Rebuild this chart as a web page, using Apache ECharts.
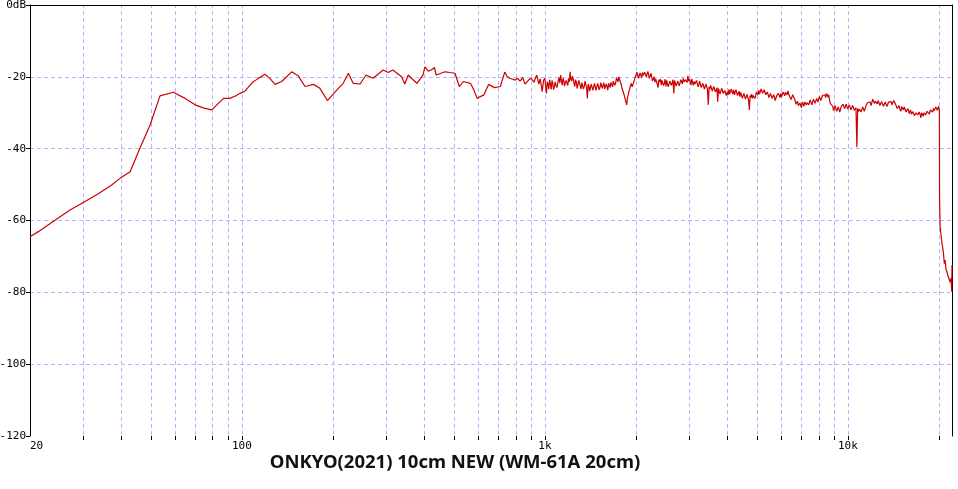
<!DOCTYPE html>
<html>
<head>
<meta charset="utf-8">
<script src="https://cdn.jsdelivr.net/npm/echarts@6/dist/echarts.min.js"></script>
<style>
  html, body { margin: 0; padding: 0; background: #fff; }
  #chart { width: 958px; height: 489px; }
</style>
</head>
<body>
<div id="chart"></div>
<script>
// ---- Data (frequency Hz, level dB) ----
var titleText = 'ONKYO(2021) 10cm NEW (WM-61A 20cm)';
var xMin = 20, xMax = 22050;
var yMin = -120, yMax = 0, yStep = 20;
var xLabelValues = [20, 100, 1000, 10000];
var xLabelTexts = ['20', '100', '1k', '10k'];
var gridFreqs = [30, 40, 50, 60, 70, 80, 90, 100, 200, 300, 400, 500, 600, 700, 800, 900,
  1000, 2000, 3000, 4000, 5000, 6000, 7000, 8000, 9000, 10000, 20000];

var lowBand = [
  [20, -64.5], [21.3, -63.1], [25, -59.1], [27.1, -57.1], [30, -55.0], [33.5, -52.6], [37.2, -50.1],
  [40, -48.0], [42.8, -46.4], [46.1, -39.9], [49.8, -33.4], [53.7, -25.3], [59.4, -24.3], [65, -26.0],
  [70.1, -27.8], [75, -28.7], [79.6, -29.2], [87, -26.0], [91.4, -26.0], [96, -25.2], [98.6, -24.6],
  [102.4, -24.0], [108.6, -21.5], [113, -20.5], [119.2, -19.3], [124, -20.5], [128.6, -22.1],
  [135.4, -21.3], [146, -18.6], [153.8, -19.8], [161.6, -22.7], [172.4, -22.1], [181, -23.2],
  [191.6, -26.6], [205.6, -23.7], [216, -21.8], [224.6, -19.0], [233, -21.8], [245.6, -22.0],
  [257, -19.5], [271, -20.4], [292.6, -18.1], [304, -18.8], [315, -18.1], [336.8, -20.0], [345, -22.0],
  [354, -19.5], [378, -21.8], [396, -19.5], [402, -17.2], [412, -18.4], [422, -18.1], [432, -17.4],
  [438, -19.5], [468, -18.6], [486, -18.8], [505, -19.0], [522, -22.7], [538, -21.3], [568, -21.8],
  [582, -23.5], [598, -26.0], [612, -25.5], [628, -25.1], [652, -22.1], [682, -23.0], [713, -22.7],
  [737, -18.7], [750, -19.8], [764, -20.4], [780, -20.6], [798, -20.9], [812, -20.4], [828, -21.2],
  [845, -20.2], [860, -22.0], [884, -20.9], [900, -20.4], [920, -21.5], [940, -19.5], [955, -22.0],
  [965, -20.5], [980, -24.1], [990, -21.0]
];

var band1k = [
  [1000, -20.4], [1006, -22.8], [1012, -24.6], [1018, -21.4], [1024, -22.0], [1030, -23.4], [1036, -20.8],
  [1043, -22.0], [1049, -23.5], [1056, -21.0], [1062, -21.8], [1068, -23.6], [1074, -22.8], [1081, -21.4],
  [1087, -20.9], [1094, -23.0], [1100, -22.4], [1107, -21.0], [1114, -20.2], [1120, -21.8], [1127, -19.5],
  [1134, -21.0], [1141, -22.3], [1148, -20.4], [1154, -21.0], [1161, -22.6], [1168, -23.0], [1175, -21.0],
  [1182, -21.3], [1190, -22.4], [1197, -20.4], [1204, -21.4], [1211, -18.6], [1218, -20.6], [1226, -21.2],
  [1233, -19.8], [1240, -20.5], [1248, -21.8], [1255, -22.7], [1262, -20.8], [1270, -21.4], [1278, -23.2],
  [1286, -22.8], [1294, -21.0], [1301, -21.6], [1309, -22.6], [1317, -23.4], [1325, -21.6], [1333, -22.0],
  [1341, -23.4], [1349, -22.6], [1357, -21.2], [1365, -21.5], [1373, -23.0], [1381, -26.0], [1390, -22.0],
  [1398, -22.6], [1406, -24.0], [1415, -23.7], [1423, -22.0], [1432, -22.1], [1440, -23.8], [1449, -23.3],
  [1458, -21.8], [1466, -21.9], [1475, -23.8], [1484, -23.6], [1493, -21.8], [1502, -22.2], [1511, -23.6],
  [1520, -23.0], [1529, -21.6], [1538, -21.8], [1547, -23.2], [1556, -22.3], [1565, -21.6], [1575, -23.4],
  [1584, -23.8], [1594, -22.0], [1603, -22.6], [1613, -23.7], [1623, -21.8], [1633, -22.2], [1642, -23.0],
  [1652, -21.5], [1662, -22.0], [1672, -22.8], [1682, -21.2], [1692, -21.0], [1702, -22.4], [1713, -21.6],
  [1723, -20.2], [1733, -20.4], [1743, -21.4], [1754, -20.0], [1764, -20.8], [1775, -21.2], [1785, -22.0],
  [1796, -23.2], [1807, -23.8], [1818, -24.5], [1829, -25.2], [1840, -26.2], [1851, -26.6], [1862, -27.8],
  [1873, -25.8], [1884, -25.0], [1896, -24.0], [1907, -23.6], [1918, -22.4], [1930, -21.8], [1941, -22.8],
  [1953, -22.6], [1965, -21.4], [1976, -20.8], [1988, -20.0]
];

var band2k = [
  [2000, -19.8], [2012, -18.7], [2024, -19.0], [2036, -20.4], [2048, -20.3], [2060, -18.9], [2073, -19.2],
  [2085, -20.2], [2098, -18.8], [2110, -19.6], [2123, -19.9], [2135, -18.7], [2148, -18.6], [2161, -20.0],
  [2174, -19.6], [2187, -18.5], [2200, -18.9], [2213, -20.4], [2227, -20.2], [2240, -19.0], [2253, -19.3],
  [2266, -21.2], [2280, -20.8], [2294, -20.0], [2308, -21.5], [2321, -20.6], [2335, -20.2], [2349, -22.0],
  [2363, -23.0], [2377, -20.8], [2392, -21.4], [2406, -20.6], [2420, -22.3], [2434, -21.0], [2449, -20.9],
  [2464, -22.4], [2479, -21.8], [2493, -20.6], [2508, -22.7], [2523, -21.0], [2538, -21.3], [2553, -22.8],
  [2569, -22.5], [2584, -21.2], [2600, -20.9], [2615, -22.4], [2631, -21.6], [2647, -20.8], [2663, -24.6],
  [2678, -21.0], [2694, -21.3], [2710, -22.6], [2727, -22.2], [2743, -21.2], [2760, -21.0], [2776, -22.5],
  [2793, -22.0], [2810, -20.8], [2826, -21.2], [2843, -22.0], [2860, -20.4], [2877, -21.4], [2894, -21.9],
  [2911, -20.8], [2929, -20.5], [2946, -21.6], [2964, -19.7], [2982, -21.2], [3000, -20.6], [3018, -21.3],
  [3036, -22.3], [3054, -20.6], [3072, -21.0], [3090, -22.4], [3109, -21.3], [3127, -22.0], [3146, -22.4],
  [3165, -21.0], [3184, -21.3], [3203, -22.8], [3222, -22.1], [3241, -21.2], [3261, -21.5], [3280, -23.0],
  [3300, -22.7], [3320, -21.8], [3340, -22.0], [3360, -23.4], [3380, -23.0], [3400, -22.0], [3420, -22.2],
  [3440, -23.5], [3461, -27.8], [3482, -22.8], [3503, -23.4], [3524, -22.4], [3545, -22.6], [3566, -24.0],
  [3587, -23.8], [3608, -22.7], [3630, -23.0], [3652, -24.2], [3674, -24.0], [3696, -23.0], [3718, -26.9],
  [3740, -23.2], [3763, -23.6], [3785, -24.8], [3808, -24.4], [3830, -23.2], [3853, -23.8], [3876, -24.6],
  [3899, -25.0], [3922, -23.8], [3946, -24.2], [3970, -25.2], [3993, -24.8]
];

var band4k = [
  [4000, -24.2], [4024, -25.0], [4048, -23.5], [4072, -24.8], [4096, -24.5], [4120, -23.4], [4144, -23.7],
  [4170, -24.8], [4196, -23.6], [4222, -25.0], [4248, -24.6], [4272, -23.6], [4296, -23.9], [4322, -25.2],
  [4348, -25.0], [4374, -24.0], [4400, -25.5], [4428, -24.3], [4456, -24.6], [4482, -26.0], [4508, -25.7],
  [4536, -24.6], [4564, -25.0], [4590, -26.2], [4616, -26.4], [4644, -24.9], [4672, -25.3], [4700, -26.4],
  [4728, -29.2], [4756, -25.2], [4784, -25.8], [4812, -24.8], [4840, -26.0], [4870, -25.2], [4900, -25.0],
  [4930, -26.0], [4960, -25.4], [4990, -24.2], [5020, -24.6], [5050, -25.0], [5080, -23.8], [5110, -24.8],
  [5140, -24.3], [5170, -23.4], [5200, -23.7], [5232, -24.6], [5264, -24.8], [5294, -23.6], [5324, -24.0],
  [5358, -25.0], [5392, -25.3], [5422, -24.2], [5452, -24.5], [5486, -25.8], [5520, -25.6], [5552, -24.6],
  [5584, -25.0], [5618, -26.0], [5652, -26.2], [5686, -25.0], [5720, -25.6], [5754, -26.6], [5788, -26.4],
  [5822, -25.2], [5856, -25.4], [5892, -24.6], [5928, -25.0], [5964, -25.8], [6000, -24.6], [6036, -25.6],
  [6072, -25.2], [6110, -24.2], [6148, -24.4], [6186, -25.3], [6224, -24.3], [6262, -24.0], [6300, -25.0],
  [6338, -23.9], [6376, -24.2], [6414, -25.4], [6452, -25.2], [6492, -26.3], [6532, -26.0], [6572, -25.0],
  [6612, -25.5], [6654, -26.0], [6696, -26.6], [6736, -27.6], [6776, -27.2], [6818, -26.8], [6860, -28.0],
  [6902, -28.4], [6944, -27.3], [6986, -27.0], [7028, -28.6], [7072, -27.0], [7116, -27.4], [7158, -28.2],
  [7200, -27.0], [7244, -26.6], [7288, -27.8], [7332, -27.2], [7376, -26.8], [7420, -27.8], [7464, -27.5],
  [7510, -26.4], [7556, -26.8], [7602, -27.8], [7648, -27.4], [7696, -26.2], [7744, -26.5], [7792, -27.4],
  [7840, -27.0], [7886, -26.0], [7932, -26.2], [7966, -27.0]
];

var band8k = [
  [8000, -26.5], [8048, -25.5], [8096, -25.7], [8144, -26.6], [8192, -26.3], [8240, -25.2], [8288, -25.4],
  [8340, -24.8], [8392, -25.0], [8444, -25.8], [8496, -24.6], [8544, -25.0], [8592, -25.6], [8644, -25.0],
  [8696, -26.4], [8748, -27.4], [8800, -27.0], [8856, -27.6], [8912, -28.2], [8964, -29.4], [9016, -29.0],
  [9072, -28.0], [9128, -28.3], [9180, -29.6], [9232, -29.6], [9288, -28.4], [9344, -28.8], [9400, -29.8],
  [9456, -29.4], [9512, -28.2], [9568, -28.4], [9632, -27.6], [9696, -27.8], [9752, -28.8], [9808, -28.6],
  [9864, -27.6], [9920, -28.0], [9984, -29.0], [10048, -28.8], [10108, -27.8], [10168, -28.2], [10228, -29.2],
  [10288, -29.0], [10360, -28.0], [10432, -28.4], [10496, -29.3], [10560, -29.4], [10632, -28.6],
  [10704, -39.6], [10768, -28.8], [10832, -29.7], [10904, -29.0], [10976, -28.8], [11044, -29.8],
  [11112, -29.5], [11184, -28.4], [11256, -28.7], [11328, -29.6], [11400, -29.3], [11472, -28.0],
  [11544, -28.2], [11616, -27.2], [11688, -27.6], [11764, -26.8], [11840, -27.0], [11920, -28.0],
  [12000, -27.6], [12080, -26.2], [12160, -26.5], [12240, -27.4], [12320, -26.8], [12412, -26.6],
  [12504, -27.5], [12584, -26.6], [12664, -27.0], [12748, -28.0], [12832, -27.9], [12920, -26.9],
  [13008, -27.3], [13096, -28.2], [13184, -28.0], [13272, -27.0], [13360, -27.4], [13444, -28.3],
  [13528, -28.0], [13616, -27.0], [13704, -27.3], [13796, -26.5], [13888, -26.9], [13976, -27.8],
  [14064, -27.5], [14160, -26.6], [14256, -26.8], [14352, -27.6], [14448, -27.8], [14544, -28.8],
  [14640, -28.4], [14744, -28.0], [14848, -29.0], [14944, -29.6], [15040, -28.3], [15144, -28.6],
  [15248, -29.2], [15344, -28.4], [15440, -28.7], [15548, -29.8], [15656, -29.6], [15764, -28.8],
  [15872, -29.0], [15936, -30.2]
];

var band16k = [
  [16000, -29.8], [16096, -29.2], [16192, -30.4], [16288, -30.6], [16384, -29.7], [16480, -29.5],
  [16576, -30.8], [16680, -31.2], [16784, -30.0], [16888, -29.8], [16992, -30.6], [17088, -31.0],
  [17184, -29.8], [17296, -30.4], [17408, -31.4], [17504, -30.0], [17600, -30.3], [17712, -31.0],
  [17824, -30.0], [17928, -29.6], [18032, -30.6], [18144, -30.8], [18256, -29.6], [18360, -29.4],
  [18464, -30.0], [18584, -30.4], [18704, -29.2], [18808, -28.9], [18912, -29.6], [19032, -29.8],
  [19152, -28.8], [19264, -29.4], [19376, -29.0], [19496, -28.4], [19616, -28.6], [19728, -29.3],
  [19840, -28.9], [19920, -28.2], [20000, -28.6]
];

var rolloff = [
  [20040, -29.5], [20060, -53.7], [20150, -61.7], [20410, -66.0], [20660, -69.0], [20800, -72.0],
  [20930, -71.0], [21060, -73.5], [21200, -74.2], [21460, -75.8], [21750, -77.2], [21900, -76.0],
  [22000, -79.8], [22050, -72.4]
];

var curve = lowBand.concat(band1k, band2k, band4k, band8k, band16k, rolloff);

var chart = echarts.init(document.getElementById('chart'), null, { renderer: 'canvas' });

var labelFont = { fontFamily: 'DejaVu Sans Mono', fontSize: 11, color: '#000' };
var gridColor = '#b4b4ff';
var dashOn = 4, dashOff = 3;

function crisp(v) { return Math.round(v) + 0.5; }

var option = {
  animation: false,
  backgroundColor: '#ffffff',
  grid: { left: 30, right: 6, top: 5, bottom: 53, containLabel: false, outerBoundsMode: 'none' },
  xAxis: [
    {
      type: 'log', logBase: 10, min: xMin, max: xMax,
      axisLine: { show: true, lineStyle: { color: '#000', width: 1 } },
      axisTick: { show: false },
      splitLine: { show: false },
      minorTick: { show: false },
      axisLabel: Object.assign({
        margin: 5,
        showMaxLabel: false,
        alignMinLabel: 'left',
        formatter: function (v) {
          var r = Math.round(v);
          var i = xLabelValues.indexOf(r);
          return i >= 0 ? xLabelTexts[i] : '';
        }
      }, labelFont)
    },
    {
      type: 'log', logBase: 10, min: xMin, max: xMax, position: 'top',
      axisLine: { show: true, lineStyle: { color: '#000', width: 1 } },
      axisTick: { show: false }, axisLabel: { show: false }, splitLine: { show: false }
    }
  ],
  yAxis: [
    {
      type: 'value', min: yMin, max: yMax, interval: yStep,
      axisLine: { show: true, lineStyle: { color: '#000', width: 1 } },
      axisTick: { show: true, length: 4, lineStyle: { color: '#000' } },
      splitLine: { show: true, showMinLine: false, showMaxLine: false,
        lineStyle: { color: gridColor, type: [dashOn, dashOff], width: 1 } },
      axisLabel: Object.assign({
        margin: 4,
        formatter: function (v) { return v === 0 ? '0dB' : String(v); }
      }, labelFont)
    },
    {
      type: 'value', min: yMin, max: yMax, interval: yStep, position: 'right',
      axisLine: { show: true, lineStyle: { color: '#000', width: 1 } },
      axisTick: { show: false }, axisLabel: { show: false }, splitLine: { show: false }
    }
  ],
  graphic: [
    {
      type: 'text', x: 455, y: 463,
      style: {
        text: titleText, align: 'center', verticalAlign: 'middle',
        font: 'bold 18.5px "Noto Sans"', fill: '#111'
      }
    }
  ],
  series: [
    {
      type: 'custom', xAxisIndex: 0, yAxisIndex: 0, z: 1, clip: false, silent: true,
      data: gridFreqs.map(function (f) { return [f, yMin]; }),
      renderItem: function (params, api) {
        var f = api.value(0);
        var top = api.coord([f, yMax]);
        var bot = api.coord([f, yMin]);
        var x = crisp(bot[0]);
        var children = [];
        // dashed grid line, drawn upward from the bottom axis
        for (var y = Math.round(bot[1]) - 1; y > top[1] + 1; y -= (dashOn + dashOff)) {
          var y2 = Math.max(y - dashOn, top[1] + 1);
          children.push({ type: 'line', shape: { x1: x, y1: y, x2: x, y2: y2 },
            style: { stroke: gridColor, lineWidth: 1 } });
        }
        // tick mark below the axis
        children.push({ type: 'line', shape: { x1: x, y1: bot[1], x2: x, y2: bot[1] + 4 },
          style: { stroke: '#000', lineWidth: 1 } });
        return { type: 'group', children: children };
      }
    },
    {
      type: 'line', xAxisIndex: 0, yAxisIndex: 0, z: 3,
      data: curve, showSymbol: false, symbol: 'none', silent: true,
      lineStyle: { color: '#cc0000', width: 1.2 }
    }
  ]
};

chart.setOption(option);
</script>
</body>
</html>
